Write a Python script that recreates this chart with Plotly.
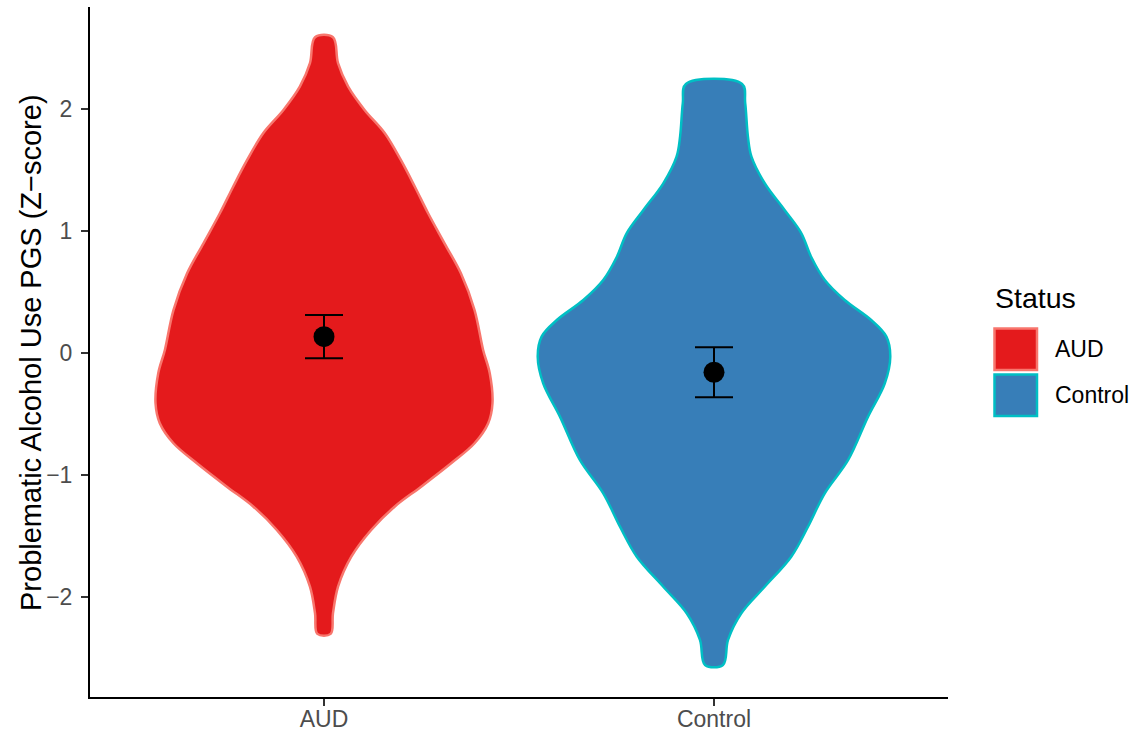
import plotly.graph_objects as go

# Violin outlines: y levels (Z-score) and half-widths (in category units)
aud_y = [2.588, 2.375, 2.183, 1.992, 1.801, 1.582, 1.363, 1.145, 0.899, 0.653, 0.352, 0.025,
         -0.166, -0.412, -0.576, -0.740, -0.904, -1.096, -1.260, -1.451, -1.670, -1.916, -2.134, -2.303]
aud_hw = [0.023, 0.036, 0.062, 0.104, 0.156, 0.197, 0.233, 0.267, 0.309, 0.351, 0.386, 0.408,
          0.425, 0.432, 0.421, 0.386, 0.326, 0.249, 0.181, 0.121, 0.070, 0.036, 0.023, 0.017]

ctl_y = [2.205, 2.047, 1.773, 1.609, 1.391, 1.172, 0.981, 0.789, 0.598, 0.434, 0.270, 0.134,
         -0.030, -0.248, -0.522, -0.877, -1.150, -1.424, -1.670, -1.916, -2.134, -2.352, -2.557]
ctl_hw = [0.072, 0.080, 0.087, 0.096, 0.130, 0.181, 0.224, 0.249, 0.284, 0.335, 0.403, 0.442,
          0.452, 0.438, 0.395, 0.344, 0.284, 0.241, 0.198, 0.130, 0.070, 0.036, 0.023]

categories = ["AUD", "Control"]
means = [0.134, -0.158]
ses = [0.177, 0.205]

fills = ["#E41A1C", "#377EB8"]
outlines = ["#F8766D", "#00BFC4"]

y_ticks = [-2, -1, 0, 1, 2]
y_tick_text = ["\u22122", "\u22121", "0", "1", "2"]

FONT = "Liberation Sans, Arial, sans-serif"
W, H = 1133, 731
ML, MR, MT, MB = 90, 185, 7, 34
PW, PH = W - ML - MR, H - MT - MB


def px_x(px):
    return (px - ML) / PW


def px_y(py):
    return (H - MB - py) / PH


fig = go.Figure()

profiles = [(aud_y, aud_hw), (ctl_y, ctl_hw)]
for i, (ys, hws) in enumerate(profiles):
    c = i + 1
    xs = [c - w for w in hws] + [c + w for w in reversed(hws)] + [c - hws[0]]
    yy = list(ys) + list(reversed(ys)) + [ys[0]]
    fig.add_trace(go.Scatter(
        x=xs, y=yy, mode="lines", fill="toself",
        fillcolor=fills[i],
        line=dict(color=outlines[i], width=2.5, shape="spline", smoothing=1.0),
        hoverinfo="skip", showlegend=False,
    ))

# Group means with standard-error bars
fig.add_trace(go.Scatter(
    x=[1, 2], y=means, mode="markers",
    marker=dict(color="black", size=21),
    error_y=dict(type="data", array=ses, symmetric=True,
                 color="black", thickness=2, width=19),
    showlegend=False,
))

fig.update_xaxes(
    range=[0.4, 2.6], tickvals=[1, 2], ticktext=categories,
    showline=True, linecolor="black", linewidth=2,
    ticks="outside", ticklen=7, tickwidth=2, tickcolor="#333333",
    tickfont=dict(family=FONT, size=23, color="#4D4D4D"),
    ticklabelstandoff=-7,
    showgrid=False, zeroline=False, fixedrange=True, automargin=False,
)
fig.update_yaxes(
    range=[-2.820, 2.836], tickvals=y_ticks, ticktext=y_tick_text,
    showline=True, linecolor="black", linewidth=2,
    ticks="outside", ticklen=7, tickwidth=2, tickcolor="#333333",
    tickfont=dict(family=FONT, size=23, color="#4D4D4D"),
    ticklabelstandoff=4,
    showgrid=False, zeroline=False, fixedrange=True, automargin=False,
)

annotations = [
    dict(text="Problematic Alcohol Use PGS (Z\u2212score)", textangle=-90,
         x=px_x(31), y=px_y(353), xref="paper", yref="paper",
         xanchor="center", yanchor="middle", showarrow=False,
         font=dict(family=FONT, size=29, color="black")),
    dict(text="Status", x=px_x(993), y=px_y(298), xref="paper", yref="paper",
         xanchor="left", yanchor="middle", showarrow=False,
         font=dict(family=FONT, size=28.5, color="black")),
]

# Legend keys drawn as boxes beside the plot
shapes = []
key_tops = [327, 373]
for i, name in enumerate(categories):
    top = key_tops[i]
    shapes.append(dict(
        type="rect", xref="paper", yref="paper",
        x0=px_x(994.5), x1=px_x(1037), y0=px_y(top + 43), y1=px_y(top + 1.5),
        fillcolor=fills[i], line=dict(color=outlines[i], width=2.5),
    ))
    annotations.append(dict(
        text=name, x=px_x(1053), y=px_y(top + 22), xref="paper", yref="paper",
        xanchor="left", yanchor="middle", showarrow=False,
        font=dict(family=FONT, size=23, color="black"),
    ))

fig.update_layout(
    width=W, height=H,
    margin=dict(l=ML, r=MR, t=MT, b=MB, autoexpand=False),
    paper_bgcolor="white", plot_bgcolor="white",
    showlegend=False,
    annotations=annotations, shapes=shapes,
    font=dict(family=FONT),
)

fig.write_html("out.html")
